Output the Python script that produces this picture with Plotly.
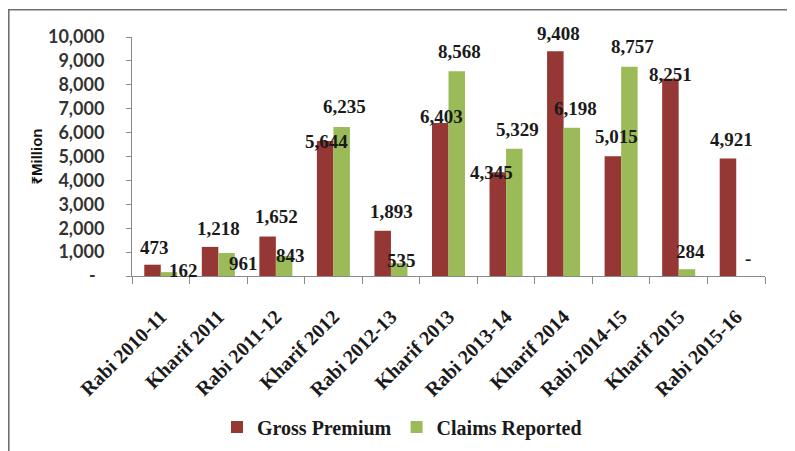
import plotly.graph_objects as go

categories = ["Rabi 2010-11", "Kharif 2011", "Rabi 2011-12", "Kharif 2012", "Rabi 2012-13",
              "Kharif 2013", "Rabi 2013-14", "Kharif 2014", "Rabi 2014-15", "Kharif 2015", "Rabi 2015-16"]
gross_premium = [473, 1218, 1652, 5644, 1893, 6403, 4345, 9408, 5015, 8251, 4921]
claims_reported = [162, 961, 843, 6235, 535, 8568, 5329, 6198, 8757, 284, 0]
y_tickvals = [0, 1000, 2000, 3000, 4000, 5000, 6000, 7000, 8000, 9000, 10000]
y_ticktext = ["-\u00a0\u00a0", "1,000", "2,000", "3,000", "4,000", "5,000", "6,000",
              "7,000", "8,000", "9,000", "10,000"]

# label offsets (pixels: dx right, dy up) to mimic the manual placement of the original
gp_dx = [1.5, 8, 9, 1, 8.5, 1, -6, 3.5, 4, 0, 3.5]
gp_dy = [17.7, 18, 20, 0, 19, 6, 0, 18, 19.4, 4, 18.4]
cr_dx = [14.5, 16.5, 6, 2.5, 2, 3, 3.5, 4, 3, 4, 4]
cr_dy = [2, -10, 0, 20, 3, 20, 19, 19.6, 20, 17.5, 17.7]

RED = "#953735"
GREEN = "#9BBB59"
SERIF = "Liberation Serif, Times New Roman, serif"

OFF = 8  # page body margin
W, H = 795 - OFF, 451 - OFF
L, T = 132 - OFF, 37 - OFF
R = W - (765 - OFF)
B = H - (276 - OFF)
PW, PH = W - L - R, H - T - B


def px(xp):  # page pixel -> paper x
    return (xp - OFF - L) / PW


def py(yp):  # page pixel -> paper y
    return (H - B - (yp - OFF)) / PH


fig = go.Figure()
fig.add_trace(go.Bar(x=categories, y=gross_premium, name="Gross Premium",
                     marker_color=RED, marker_line_width=0))
fig.add_trace(go.Bar(x=categories, y=claims_reported, name="Claims Reported",
                     marker_color=GREEN, marker_line_width=0))

half = PW / len(categories) * (1 - 0.426) / 4


def fmt(v):
    return "-" if v == 0 else f"{v:,}"


lab_font = dict(family=SERIF, size=19, color="#1a1a1a", weight="bold")
annotations = []
for i, c in enumerate(categories):
    annotations.append(dict(x=c, y=gross_premium[i], text=fmt(gross_premium[i]),
                            xshift=-half + gp_dx[i], yshift=gp_dy[i], yanchor="middle",
                            showarrow=False, font=lab_font))
    annotations.append(dict(x=c, y=claims_reported[i], text=fmt(claims_reported[i]),
                            xshift=half + cr_dx[i], yshift=cr_dy[i], yanchor="middle",
                            showarrow=False, font=lab_font))

shapes = [
    dict(type="line", xref="paper", yref="paper", x0=px(8), x1=px(800), y0=py(9.7), y1=py(9.7),
         line=dict(color="#707070", width=1.6)),
    dict(type="line", xref="paper", yref="paper", x0=px(8.8), x1=px(8.8), y0=py(9.7), y1=py(460),
         line=dict(color="#707070", width=1.6)),
]

fig.update_layout(
    width=W, height=H,
    margin=dict(l=L, r=R, t=T, b=B, autoexpand=False),
    paper_bgcolor="white", plot_bgcolor="white",
    barmode="group", bargap=0.426, bargroupgap=0,
    showlegend=True,
    legend=dict(orientation="h", x=px(402), xanchor="center", y=py(427), yanchor="middle",
                font=dict(family=SERIF, size=20, color="#1a1a1a", weight="bold"),
                itemsizing="constant", bgcolor="rgba(0,0,0,0)"),
    annotations=annotations,
    shapes=shapes,
)

fig.update_yaxes(range=[0, 10000], tickvals=y_tickvals, ticktext=y_ticktext, automargin=False,
                 showgrid=False, zeroline=False, showline=True, linecolor="#8a8a8a", linewidth=1,
                 ticks="outside", ticklen=5, tickcolor="#8a8a8a",
                 tickfont=dict(family="Lato, Liberation Sans, sans-serif", size=18, color="#333333",
                               weight="bold"),
                 ticklabelstandoff=18,
                 title=dict(text="₹Million", standoff=1,
                            font=dict(family="Liberation Sans, Noto Sans, sans-serif", size=15,
                                      color="#111111", weight="bold")))
fig.update_xaxes(type="category", tickangle=-45, showgrid=False, showline=True, automargin=False,
                 linecolor="#8a8a8a", linewidth=1, ticks="outside", ticklen=7,
                 tickcolor="#8a8a8a", tickson="boundaries", ticklabelstandoff=20,
                 tickfont=dict(family=SERIF, size=20, color="#1a1a1a", weight="bold"))

fig.write_html("out.html")
